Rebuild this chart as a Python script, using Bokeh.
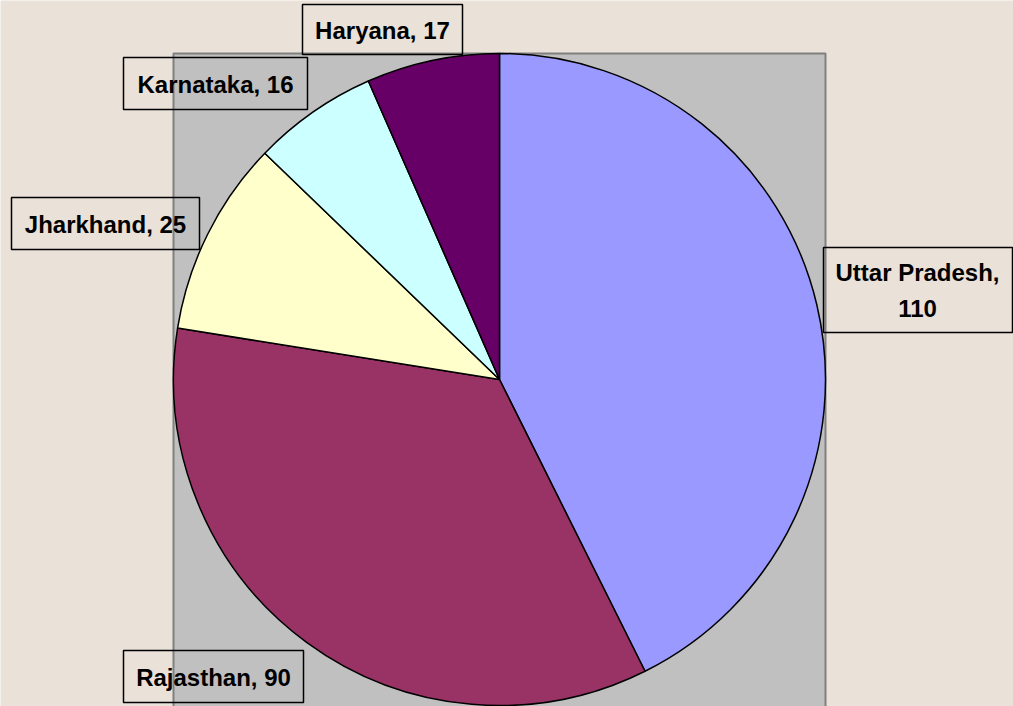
import math
from bokeh.plotting import figure
from bokeh.models import Range1d, ColumnDataSource
from bokeh.core.properties import value
from bokeh.embed import file_html
from bokeh.resources import INLINE

# ---- data ----
states = ["Uttar Pradesh", "Rajasthan", "Jharkhand", "Karnataka", "Haryana"]
counts = [110, 90, 25, 16, 17]
colors = ["#9999FF", "#993366", "#FFFFCC", "#CCFFFF", "#660066"]

# ---- layout (reference pixel coords, y measured from top) ----
W, H = 1013, 706
REF_H = 706
def fy(y):
    return REF_H - y

cx, cy, R = 499, 379, 326
plot_area = dict(left=173, right=825, top=53, bottom=760)
label_boxes = {
    "Uttar Pradesh": (823, 1012, 247, 332),
    "Rajasthan": (123, 303, 650, 702),
    "Jharkhand": (11, 199, 197, 249),
    "Karnataka": (123, 307, 57, 109),
    "Haryana": (302, 462, 4, 54),
}
label_text_pos = {
    "Uttar Pradesh": (917, 290),
    "Rajasthan": (213, 677),
    "Jharkhand": (105, 224),
    "Karnataka": (215, 84),
    "Haryana": (382, 30),
}

p = figure(width=W, height=H, output_backend="svg", toolbar_location=None,
           x_range=Range1d(0, W), y_range=Range1d(REF_H - H, REF_H),
           min_border=0, background_fill_color="#EAE1D8",
           border_fill_color="#EAE1D8", outline_line_color=None)
p.axis.visible = False
p.grid.visible = False

# plot area rectangle
p.quad(left=[plot_area["left"]], right=[plot_area["right"]],
       top=[fy(plot_area["top"])], bottom=[fy(plot_area["bottom"])],
       fill_color="#C0C0C0", line_color="#808080", line_width=2)

# pie wedges
total = sum(counts)
starts, ends = [], []
cum = 0.0
for c in counts:
    a0 = math.pi / 2 - 2 * math.pi * cum / total
    cum += c
    a1 = math.pi / 2 - 2 * math.pi * cum / total
    starts.append(a0)
    ends.append(a1)
src = ColumnDataSource(dict(start=starts, end=ends, color=colors, state=states, count=counts))
p.wedge(x=cx, y=fy(cy), radius=R, start_angle="start", end_angle="end",
        direction="clock", fill_color="color", line_color="black", line_width=1.5,
        source=src)

# labels
for s, c in zip(states, counts):
    l, r, t, b = label_boxes[s]
    p.quad(left=[l], right=[r], top=[fy(t)], bottom=[fy(b)],
           fill_alpha=0, line_color="black", line_width=1.5)
    tx, ty = label_text_pos[s]
    txt = f"{s}, {c}" if s != "Uttar Pradesh" else f"{s},\n{c}"
    p.text(x=[tx], y=[fy(ty)], text=[txt], text_font=value("Liberation Sans"),
           text_font_style="bold", text_font_size="24px", text_align="center",
           text_baseline="middle", text_color="black", text_line_height=1.3)

open("out.html", "w").write(file_html(p, INLINE))
